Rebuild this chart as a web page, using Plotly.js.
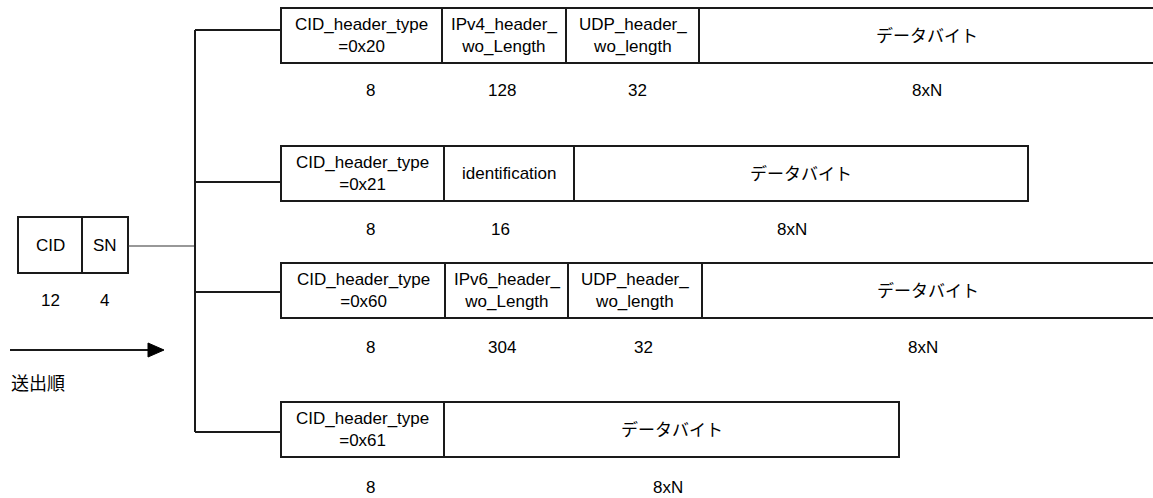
<!DOCTYPE html>
<html>
<head>
<meta charset="utf-8">
<script src="https://cdn.plot.ly/plotly-3.0.1.min.js"></script>
<style>html,body{margin:0;padding:0;background:#fff;}#chart{width:1153px;height:498px;}</style>
</head>
<body>
<div id="chart"></div>
<script>
// ---- content (data) ----
const baseFields = ["CID", "SN"];
const baseBits = ["12", "4"];

const row1Fields = ["CID_header_type<br>=0x20", "IPv4_header_<br>wo_Length", "UDP_header_<br>wo_length", "データバイト"];
const row1Bits = ["8", "128", "32", "8xN"];
const row2Fields = ["CID_header_type<br>=0x21", "identification", "データバイト"];
const row2Bits = ["8", "16", "8xN"];
const row3Fields = ["CID_header_type<br>=0x60", "IPv6_header_<br>wo_Length", "UDP_header_<br>wo_length", "データバイト"];
const row3Bits = ["8", "304", "32", "8xN"];
const row4Fields = ["CID_header_type<br>=0x61", "データバイト"];
const row4Bits = ["8", "8xN"];
const orderLabel = "送出順";

// ---- layout geometry (diagram coordinates, not data) ----
const W = 1153, H = 498;
const LINE = {color: "#1a1a1a", width: 2};
const FONT = {family: "Liberation Sans, Arial, Noto Sans CJK JP", size: 17, color: "#000"};

const base = {edges: [18, 82, 128], top: 217, bottom: 273, bitY: 300, bitX: [50, 104]};
const trunkX = 195;
const rowsGeom = [
  {fields: row1Fields, bits: row1Bits, edges: [281, 442, 566, 699, 1160], top: 8, bottom: 63, branchY: 30,
   bitY: 90, bitX: [370, 502, 637, 927], textX: [361, 503, 632, 927]},
  {fields: row2Fields, bits: row2Bits, edges: [281, 444, 574, 1028], top: 146, bottom: 201, branchY: 182,
   bitY: 229, bitX: [370, 500, 792], textX: [361, 509, 800]},
  {fields: row3Fields, bits: row3Bits, edges: [281, 445, 568, 702, 1160], top: 263, bottom: 318, branchY: 292,
   bitY: 347, bitX: [370, 502, 643, 923], textX: [361, 506, 635, 928]},
  {fields: row4Fields, bits: row4Bits, edges: [281, 444, 899], top: 402, bottom: 457, branchY: 432,
   bitY: 487, bitX: [370, 668], textX: [361, 668]}
];

const shapes = [];
const annotations = [];
function txt(x, y, t) {
  annotations.push({x: x, y: y, xref: "x", yref: "y", text: t, showarrow: false,
    font: FONT, xanchor: "center", yanchor: "middle", align: "center"});
}
function cells(edges, top, bottom) {
  for (let i = 0; i < edges.length - 1; i++) {
    shapes.push({type: "rect", x0: edges[i], x1: edges[i + 1], y0: top, y1: bottom,
      xref: "x", yref: "y", line: LINE, fillcolor: "rgba(0,0,0,0)"});
  }
}

// base header
cells(base.edges, base.top, base.bottom);
baseFields.forEach((f, i) => txt((base.edges[i] + base.edges[i + 1]) / 2, (base.top + base.bottom) / 2, f));
baseBits.forEach((b, i) => txt(base.bitX[i], base.bitY, b));
// connector from SN to trunk
shapes.push({type: "line", x0: base.edges[2], x1: trunkX, y0: 246, y1: 246, xref: "x", yref: "y", line: {color: "#333", width: 1.2}});
// trunk
shapes.push({type: "line", x0: trunkX, x1: trunkX, y0: rowsGeom[0].branchY, y1: rowsGeom[3].branchY, xref: "x", yref: "y", line: LINE});

rowsGeom.forEach(r => {
  shapes.push({type: "line", x0: trunkX, x1: r.edges[0], y0: r.branchY, y1: r.branchY, xref: "x", yref: "y", line: LINE});
  cells(r.edges, r.top, r.bottom);
  const cy = (r.top + r.bottom) / 2;
  r.fields.forEach((f, i) => {
    const cx = (i === r.fields.length - 1 && r.edges[i + 1] > W) ? r.textX[i] : (r.edges[i] + r.edges[i + 1]) / 2;
    txt(cx, cy, f);
  });
  r.bits.forEach((b, i) => txt(r.bitX[i], r.bitY, b));
});

// sending order arrow
shapes.push({type: "line", x0: 10, x1: 150, y0: 350, y1: 350, xref: "x", yref: "y", line: LINE});
shapes.push({type: "path", path: "M 148 343 L 164 350 L 148 357 Z", xref: "x", yref: "y", fillcolor: "#000", line: {color: "#000", width: 1}});
annotations.push({x: 9, y: 382, xref: "x", yref: "y", text: orderLabel, showarrow: false,
  font: Object.assign({}, FONT, {family: "Noto Sans CJK JP", size: 18}), xanchor: "left", yanchor: "middle"});

const layout = {
  width: W, height: H,
  margin: {l: 0, r: 0, t: 0, b: 0},
  paper_bgcolor: "#fff", plot_bgcolor: "#fff",
  xaxis: {range: [0, W], visible: false, fixedrange: true},
  yaxis: {range: [H, 0], visible: false, fixedrange: true},
  showlegend: false,
  shapes: shapes,
  annotations: annotations
};
Plotly.newPlot("chart", [{x: [], y: [], type: "scatter"}], layout, {staticPlot: true, displayModeBar: false});
</script>
</body>
</html>
